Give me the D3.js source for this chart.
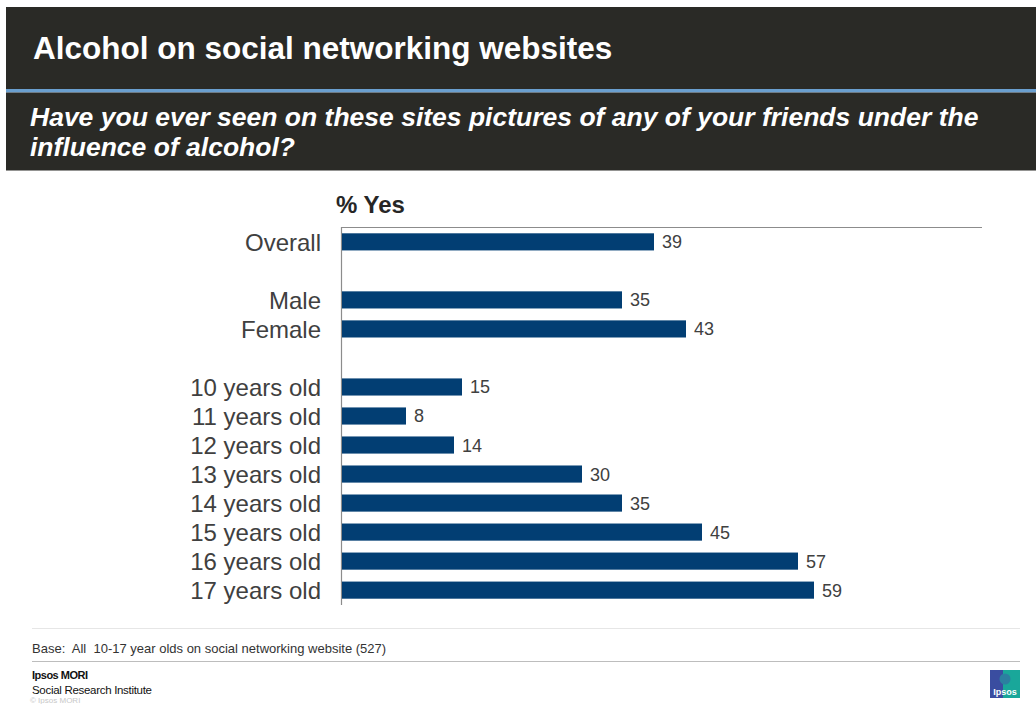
<!DOCTYPE html>
<html>
<head>
<meta charset="utf-8">
<script src="https://cdn.jsdelivr.net/npm/d3@7"></script>
<style>
  html, body { margin: 0; padding: 0; background: #fff; }
  svg { display: block; font-family: Arial, "Liberation Sans", Helvetica, sans-serif; }
</style>
</head>
<body>
<svg id="chart" width="1036" height="704"></svg>
<script>
// Survey results: share answering "Yes", by subgroup
const categories = ["Overall", "Male", "Female",
  "10 years old", "11 years old", "12 years old", "13 years old",
  "14 years old", "15 years old", "16 years old", "17 years old"];
const values = [39, 35, 43, 15, 8, 14, 30, 35, 45, 57, 59];
const groups = ["All", "Gender", "Gender", "Age", "Age", "Age", "Age", "Age", "Age", "Age", "Age"];

const title = "Alcohol on social networking websites";
const questionLines = ["Have you ever seen on these sites pictures of any of your friends under the",
                       "influence of alcohol?"];
const measureLabel = "% Yes";
const baseNote = "Base:  All  10-17 year olds on social networking website (527)";

const svg = d3.select("#chart");

// Header panels
svg.append("rect").attr("x", 6).attr("y", 7).attr("width", 1030).attr("height", 83).attr("fill", "#2a2a26");
svg.append("rect").attr("x", 6).attr("y", 89).attr("width", 1030).attr("height", 3.5).attr("fill", "#6a9fcf");
svg.append("rect").attr("x", 6).attr("y", 92.5).attr("width", 1030).attr("height", 78).attr("fill", "#2a2a26");

svg.append("text").attr("x", 33).attr("y", 59)
  .attr("fill", "#fff").attr("font-size", 31.5).attr("font-weight", "bold")
  .text(title);

svg.append("g").selectAll("text").data(questionLines).join("text")
  .attr("x", 30).attr("y", (d, i) => 126 + i * 30)
  .attr("fill", "#fff").attr("font-size", 26.5).attr("font-weight", "bold").attr("font-style", "italic")
  .text(d => d);

// Row slots: one empty slot between groups
const slots = [];
let slot = 0;
categories.forEach((c, i) => {
  if (i > 0 && groups[i] !== groups[i - 1]) slot += 1;
  slots.push(slot);
  slot += 1;
});
const nSlots = slot;

const x = d3.scaleLinear().domain([0, 80]).range([342, 982]);
const y = d3.scaleBand().domain(d3.range(nSlots)).range([227.5, 604.5]).paddingInner(0.41).paddingOuter(0.2);

// Frame lines
svg.append("line").attr("x1", x(0)).attr("x2", x(80)).attr("y1", 227.5).attr("y2", 227.5)
  .attr("stroke", "#8c8c8c").attr("stroke-width", 1);
svg.append("line").attr("x1", x(0) - 0.5).attr("x2", x(0) - 0.5).attr("y1", 227).attr("y2", 605)
  .attr("stroke", "#8c8c8c").attr("stroke-width", 1.2);

svg.append("text").attr("x", 336).attr("y", 213)
  .attr("fill", "#262626").attr("font-size", 24).attr("font-weight", "bold")
  .text(measureLabel);

const rows = categories.map((c, i) => ({ c, v: values[i], s: slots[i] }));

svg.append("g").selectAll("rect").data(rows).join("rect")
  .attr("x", x(0))
  .attr("y", d => y(d.s))
  .attr("width", d => x(d.v) - x(0))
  .attr("height", y.bandwidth())
  .attr("fill", "#023e73");

svg.append("g").selectAll("text").data(rows).join("text")
  .attr("x", d => x(d.v) + 8)
  .attr("y", d => y(d.s) + y.bandwidth() / 2)
  .attr("dy", "0.36em")
  .attr("fill", "#404040").attr("font-size", 18)
  .text(d => d.v);

svg.append("g").selectAll("text").data(rows).join("text")
  .attr("x", 321)
  .attr("y", d => y(d.s) + y.bandwidth() / 2)
  .attr("dy", "0.36em")
  .attr("text-anchor", "end")
  .attr("fill", "#404040").attr("font-size", 24)
  .text(d => d.c);

// Footer
svg.append("line").attr("x1", 32).attr("x2", 1020).attr("y1", 628.5).attr("y2", 628.5).attr("stroke", "#e6e6e6");
svg.append("text").attr("x", 32).attr("y", 653).attr("fill", "#333").attr("font-size", 13)
  .style("white-space", "pre").text(baseNote);
svg.append("line").attr("x1", 32).attr("x2", 1020).attr("y1", 661.5).attr("y2", 661.5).attr("stroke", "#bdbdbd");
svg.append("text").attr("x", 32).attr("y", 679).attr("fill", "#111").attr("font-size", 11).attr("font-weight", "bold")
  .attr("letter-spacing", -0.5).text("Ipsos MORI");
svg.append("text").attr("x", 32).attr("y", 694).attr("fill", "#111").attr("font-size", 11.5)
  .attr("letter-spacing", -0.3).text("Social Research Institute");
svg.append("text").attr("x", 30).attr("y", 703).attr("fill", "#c8c8c8").attr("font-size", 8).text("© Ipsos MORI");

// Logo badge
const logo = svg.append("g").attr("transform", "translate(990,670)");
logo.append("rect").attr("width", 30).attr("height", 28).attr("fill", "#3a4da0");
logo.append("rect").attr("x", 13).attr("width", 17).attr("height", 28).attr("fill", "#19a79a");
logo.append("circle").attr("cx", 15).attr("cy", 9).attr("r", 5.5).attr("fill", "#2c7fa0");
logo.append("text").attr("x", 15).attr("y", 25).attr("text-anchor", "middle").attr("fill", "#fff")
  .attr("font-size", 9).attr("font-weight", "bold").text("Ipsos");
</script>
</body>
</html>
